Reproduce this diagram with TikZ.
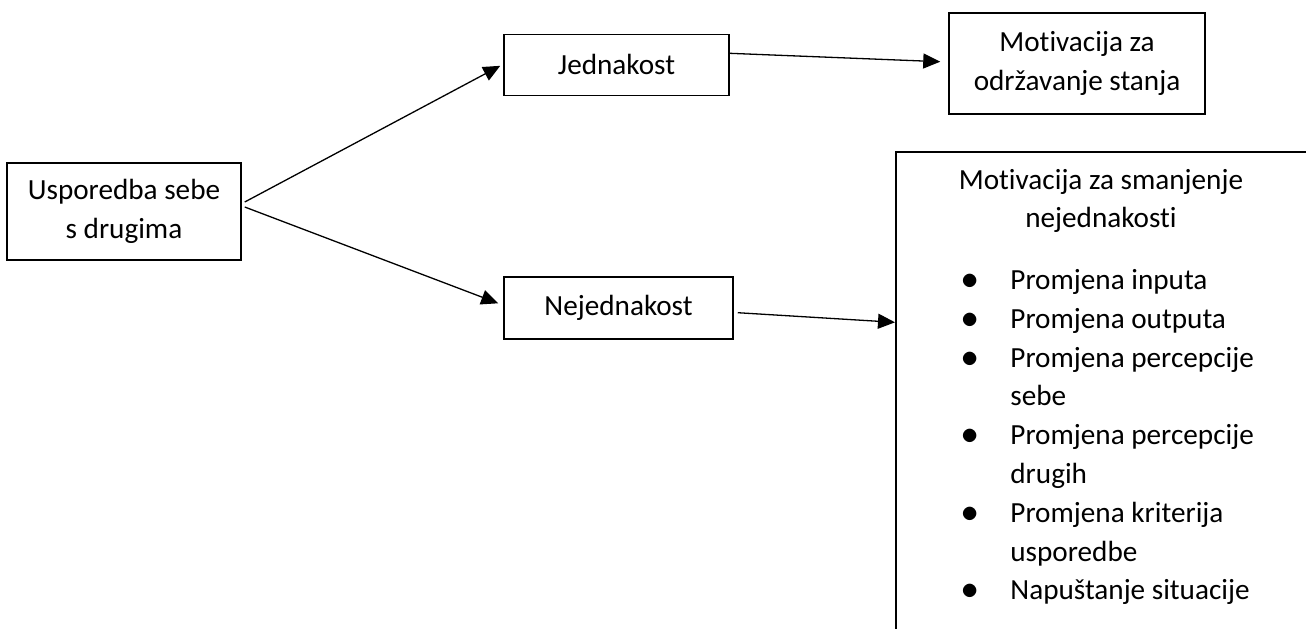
\documentclass[tikz,border=0pt]{standalone}
\usepackage{fontspec}
\setmainfont{Carlito}[Ligatures=NoCommon]
\usetikzlibrary{calc}
\usetikzlibrary{positioning}
\usetikzlibrary{arrows.meta}
\newcommand{\tekst}{\fontsize{14.6}{19.4}\selectfont}
\newcommand{\tocka}{\makebox[12pt]{\fontsize{17}{17}\selectfont$\bullet$}}
\tikzset{every picture/.style={x=0.5pt,y=-0.5pt}}
\tikzset{
  okvir/.style={draw, line width=0.75pt, align=center, inner sep=0pt, font=\tekst},
  veza/.style={-{Triangle[length=8.5pt,width=7.5pt]}, line width=0.65pt},
}

\begin{document}
\begin{tikzpicture}
  \clip (0,0) rectangle (1306,628);

  \node [okvir, minimum width=117pt, minimum height=48.5pt] (usp) at (124,211.5) {Usporedba sebe\\ s drugima};
  \node [okvir, minimum width=112.5pt, minimum height=30.5pt] (jed) at (616.5,64.8) {Jednakost};
  \node [okvir, minimum width=114.5pt, minimum height=31pt] (nej) at (618.5,308) {Nejednakost};
  \node [okvir, minimum width=128pt, minimum height=50.5pt] (odr) at (1077,63.5) {Motivacija za\\ održavanje stanja};

  % box runs off the page on the right and at the bottom
  \node [okvir, anchor=north west, minimum width=215pt, minimum height=250pt] (smanj) at (895,151) {};
  \node [align=center, inner sep=0pt, font=\tekst] (smanjnaslov) at (1101,201) {Motivacija za smanjenje\\ nejednakosti};
  \node [anchor=north west, inner sep=0pt, font=\tekst] (smanjlista) at (958,262) {%
    \begin{tabular}{@{}c@{\hspace{14pt}}l@{}}
      \tocka & Promjena inputa\\
      \tocka & Promjena outputa\\
      \tocka & Promjena percepcije\\
             & sebe\\
      \tocka & Promjena percepcije\\
             & drugih\\
      \tocka & Promjena kriterija\\
             & usporedbe\\
      \tocka & Napuštanje situacije\\
    \end{tabular}};

  \draw [veza] ($(usp.east)+(3,-9.5)$) -- ($(jed.west)+(-3,1)$);
  \draw [veza] ($(usp.east)+(3,-4.5)$) -- ($(nej.west)+(-5,-4.7)$);
  \draw [veza] ($(jed.east)+(0,-11.5)$) -- ($(odr.west)+(-8,-1.8)$);
  \draw [veza] ($(nej.east)+(4,4.7)$) -- ($(smanj.north west)+(0,171.3)$);
\end{tikzpicture}
\end{document}
